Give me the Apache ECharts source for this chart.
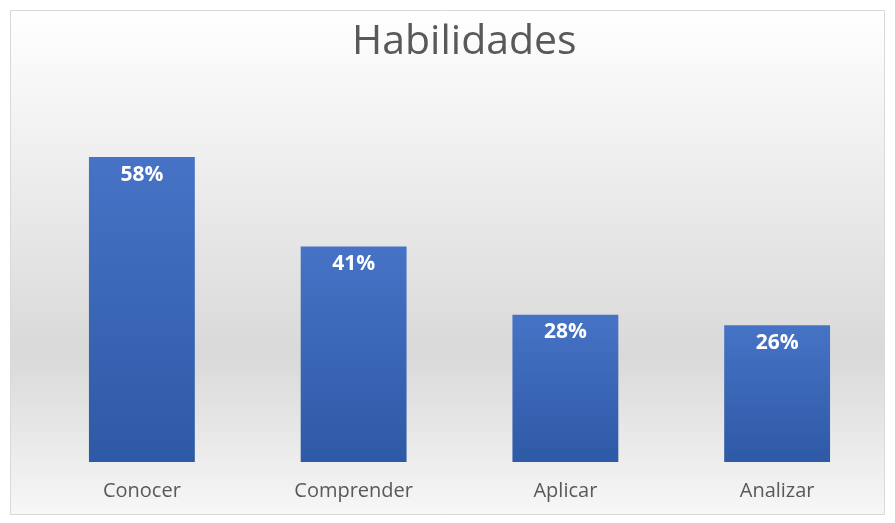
<!DOCTYPE html>
<html>
<head>
<meta charset="utf-8">
<script src="https://cdn.jsdelivr.net/npm/echarts@6/dist/echarts.min.js"></script>
<style>
  html, body { margin: 0; padding: 0; background: #fff; }
  #main { width: 895px; height: 523px; }
</style>
</head>
<body>
<div id="main"></div>
<script>
// datos
const categorias = ['Conocer', 'Comprender', 'Aplicar', 'Analizar'];
const valores = [58, 41, 28, 26];

const chart = echarts.init(document.getElementById('main'));

const option = {
  backgroundColor: '#fff',
  graphic: [{
    type: 'rect',
    z: -10,
    shape: { x: 10.5, y: 10.5, width: 874, height: 504 },
    style: {
      stroke: '#d9d9d9',
      lineWidth: 1,
      fill: new echarts.graphic.LinearGradient(0, 0, 0, 1, [
        { offset: 0, color: '#ffffff' },
        { offset: 0.68, color: '#d9d9d9' },
        { offset: 1, color: '#f7f7f7' }
      ])
    }
  }],
  title: {
    text: 'Habilidades',
    left: 347,
    top: 17,
    textStyle: {
      fontFamily: 'Open Sans',
      fontSize: 41,
      fontWeight: 'normal',
      color: '#595959'
    }
  },
  grid: { left: 36, right: 12, top: 94, bottom: 61 },
  xAxis: {
    type: 'category',
    data: categorias,
    axisLine: { show: false },
    axisTick: { show: false },
    axisLabel: {
      margin: 19,
      fontFamily: 'Open Sans',
      fontSize: 20,
      color: '#595959'
    }
  },
  yAxis: {
    type: 'value',
    min: 0,
    max: 70,
    show: false,
    splitLine: { show: false }
  },
  series: [{
    type: 'bar',
    data: valores,
    barWidth: '50%',
    itemStyle: {
      color: new echarts.graphic.LinearGradient(0, 0, 0, 1, [
        { offset: 0, color: '#4773c6' },
        { offset: 1, color: '#2e59a6' }
      ])
    },
    label: {
      show: true,
      position: 'insideTop',
      distance: 7,
      formatter: '{c}%',
      color: '#fff',
      fontFamily: 'Open Sans',
      fontWeight: 'bold',
      fontSize: 21
    }
  }]
};

chart.setOption(option);
</script>
</body>
</html>
